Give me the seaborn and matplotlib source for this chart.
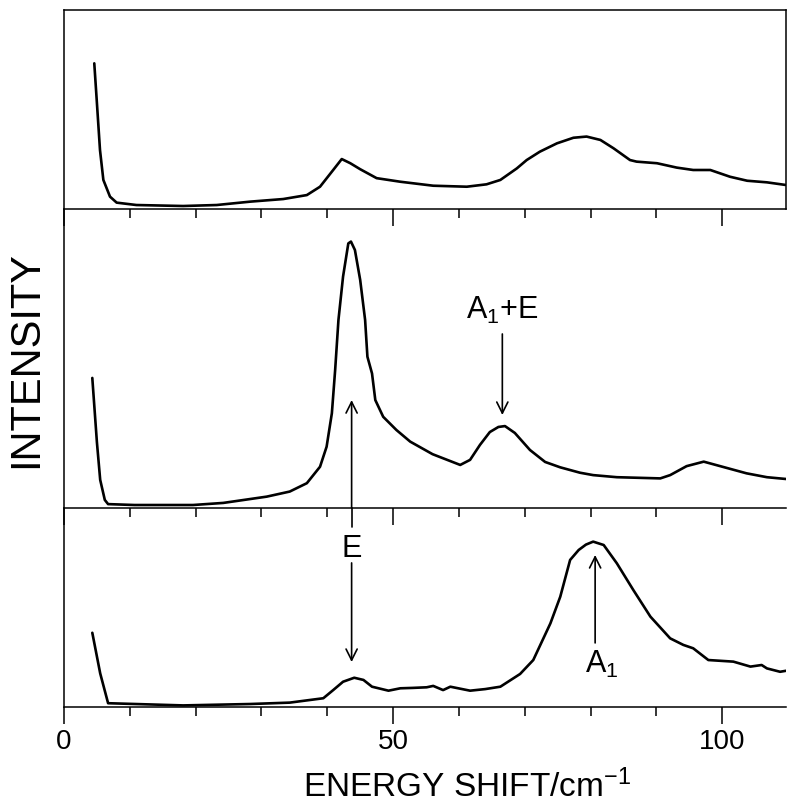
import matplotlib
matplotlib.use("Agg")
import matplotlib.pyplot as plt
import seaborn as sns
import pandas as pd
from matplotlib.ticker import MultipleLocator

# Raman spectra: energy shift (cm^-1) vs. relative intensity (arb. units)
shift_top = [4.6, 4.97, 5.47, 5.98, 6.99, 8.0, 11.0, 18.1, 23.2, 28.3, 33.3, 36.9,
             38.9, 40.9, 42.2, 43.5, 45.0, 47.5, 49.5, 51.1, 56.1, 61.2, 64.2, 66.3,
             68.8, 70.3, 72.3, 74.9, 77.4, 79.4, 81.5, 83.5, 86.0, 87.0, 90.1, 93.1,
             95.6, 98.2, 101.2, 103.8, 106.8, 109.6]
int_top = [73.2, 54.8, 29.6, 14.6, 6.2, 3.2, 2.0, 1.5, 2.0, 3.7, 5.0, 7.0,
           11.2, 19.6, 25.1, 23.0, 20.0, 15.5, 14.5, 13.7, 11.7, 11.2, 12.4, 14.6,
           20.4, 24.6, 28.8, 33.0, 35.8, 36.4, 34.7, 30.5, 24.6, 23.8, 23.0, 20.8,
           19.6, 19.6, 16.2, 14.2, 13.4, 12.1]

shift_mid = [4.3, 5.0, 5.5, 6.2, 6.7, 10.7, 19.6, 24.2, 30.8, 34.3, 36.9, 38.9,
             39.9, 40.7, 41.2, 41.7, 42.4, 43.2, 43.6, 44.2, 45.0, 45.75, 46.1,
             46.8, 47.3, 48.5, 50.5, 52.6, 56.0, 60.2, 61.7, 63.2, 64.7, 66.0, 67.0,
             68.5, 70.8, 73.1, 75.4, 78.4, 80.4, 84.0, 90.6, 92.1, 94.6, 97.2, 99.7,
             103.7, 106.8, 109.7]
int_mid = [43.5, 22.0, 9.4, 2.7, 1.3, 1.0, 1.0, 1.7, 3.8, 5.5, 8.3, 13.8,
           20.5, 31.7, 46.2, 62.9, 77.4, 88.5, 89.1, 86.3, 76.3, 62.9, 50.6,
           45.0, 36.1, 30.5, 26.1, 22.2, 18.0, 14.4, 16.1, 21.1, 25.4, 27.1, 27.4,
           25.1, 19.4, 15.4, 13.6, 11.8, 11.0, 10.3, 9.9, 11.0, 14.0, 15.5, 14.0,
           11.6, 10.3, 9.7]

shift_bot = [4.3, 5.5, 6.7, 18.1, 28.3, 34.3, 39.4, 40.9, 42.4, 44.1, 45.5, 46.8,
             49.3, 51.1, 53.0, 55.1, 56.1, 57.6, 58.7, 61.7, 64.0, 66.3, 69.3, 71.3,
             73.9, 75.4, 76.9, 78.2, 79.3, 80.4, 82.0, 84.0, 86.5, 89.1, 92.1, 94.1,
             95.6, 97.9, 101.7, 104.3, 106.0, 106.8, 108.8, 109.7]
int_bot = [37.3, 16.9, 1.9, 0.8, 1.5, 2.2, 4.4, 8.5, 12.7, 14.7, 13.6, 10.2,
           8.2, 9.4, 9.6, 9.9, 10.6, 8.5, 10.2, 8.2, 9.0, 10.2, 16.6, 23.6,
           42.0, 55.4, 73.9, 78.9, 81.6, 83.1, 81.4, 72.2, 58.8, 45.4, 34.5, 31.2,
           29.5, 23.6, 22.8, 20.3, 21.1, 19.4, 17.7, 18.2]

# Peak assignments
e_shift = 43.7
a1e_shift = 66.6
a1_shift = 80.7

x_major = [0, 50, 100]
x_labels = ["0", "50", "100"]

sns.set_theme(style="ticks")
plt.rcParams["font.family"] = ["Liberation Sans", "DejaVu Sans"]
plt.rcParams["mathtext.default"] = "regular"
plt.rcParams["text.color"] = "black"
plt.rcParams["axes.labelcolor"] = "black"
plt.rcParams["xtick.color"] = "black"
plt.rcParams["xtick.labelcolor"] = "black"

W, H = 789, 805
fig = plt.figure(figsize=(W / 100, H / 100), dpi=100)

left = 64 / W
width = 722 / W
ax_top = fig.add_axes([left, (H - 209) / H, width, 199 / H])
ax_mid = fig.add_axes([left, (H - 508) / H, width, 299 / H])
ax_bot = fig.add_axes([left, (H - 707) / H, width, 199 / H])

frames = [
    (ax_top, shift_top, int_top),
    (ax_mid, shift_mid, int_mid),
    (ax_bot, shift_bot, int_bot),
]

for ax, xs, ys in frames:
    df = pd.DataFrame({"shift": xs, "intensity": ys})
    sns.lineplot(data=df, x="shift", y="intensity", ax=ax, color="black",
                 linewidth=1.9, sort=False)
    ax.set_xlim(0, 109.7)
    ax.set_ylim(0, 100)
    ax.set_yticks([])
    ax.set_xlabel("")
    ax.set_ylabel("")
    ax.xaxis.set_major_locator(MultipleLocator(50))
    ax.xaxis.set_minor_locator(MultipleLocator(10))
    ax.tick_params(axis="x", which="major", direction="out", length=12,
                   width=1.1, color="black", labelcolor="black",
                   labelsize=20, pad=4)
    ax.tick_params(axis="x", which="minor", direction="out", length=6.5,
                   width=1.1, color="black")
    for side in ["left", "bottom", "top", "right"]:
        ax.spines[side].set_color("black")
        ax.spines[side].set_linewidth(1.1)
    ax.spines["right"].set_visible(False)
    ax.spines["top"].set_visible(False)
    ax.patch.set_alpha(0)

ax_top.spines["top"].set_visible(True)
ax_top.spines["right"].set_visible(True)
ax_top.tick_params(axis="x", labelbottom=False)
ax_mid.tick_params(axis="x", labelbottom=False)
ax_bot.set_xticks(x_major)
ax_bot.set_xticklabels(x_labels)

arrow = dict(arrowstyle="->", color="black", lw=1.2, shrinkA=0, shrinkB=0,
             mutation_scale=20)

# E mode: arrow up into the middle spectrum, arrow down onto the lower one
ax_mid.annotate("", xy=(e_shift, 36.1), xytext=(e_shift, 0),
                arrowprops=arrow, annotation_clip=False)
ax_bot.plot([e_shift, e_shift], [100, 90.5], color="black", lw=1.2,
            clip_on=False)
ax_bot.text(e_shift, 75.4, "E", ha="center", va="baseline", fontsize=22,
            color="black")
ax_bot.annotate("", xy=(e_shift, 22.6), xytext=(e_shift, 72.4),
                arrowprops=arrow)

# A1+E mode in the middle spectrum
ax_mid.text(a1e_shift, 63.2, "A$_1$+E", ha="center", va="baseline",
            fontsize=22, color="black")
ax_mid.annotate("", xy=(a1e_shift, 31.1), xytext=(a1e_shift, 58.2),
                arrowprops=arrow)

# A1 mode in the lower spectrum
ax_bot.annotate("", xy=(a1_shift, 76.4), xytext=(a1_shift, 32.2),
                arrowprops=arrow)
ax_bot.text(a1_shift + 1.0, 17.2, "A$_1$", ha="center", va="baseline",
            fontsize=22, color="black")

ax_bot.set_xlabel("ENERGY SHIFT/cm$^{-1}$", fontsize=24, color="black")
ax_bot.xaxis.label.set_va("baseline")
ax_bot.xaxis.set_label_coords(0.558, (707 - 797) / 199)

ax_mid.set_ylabel("INTENSITY", fontsize=30, color="black")
ax_mid.yaxis.label.set_va("center")
ax_mid.yaxis.set_label_coords((26 - 64) / 722, 0.495)

fig.savefig("out.png", dpi=100, facecolor="white")
